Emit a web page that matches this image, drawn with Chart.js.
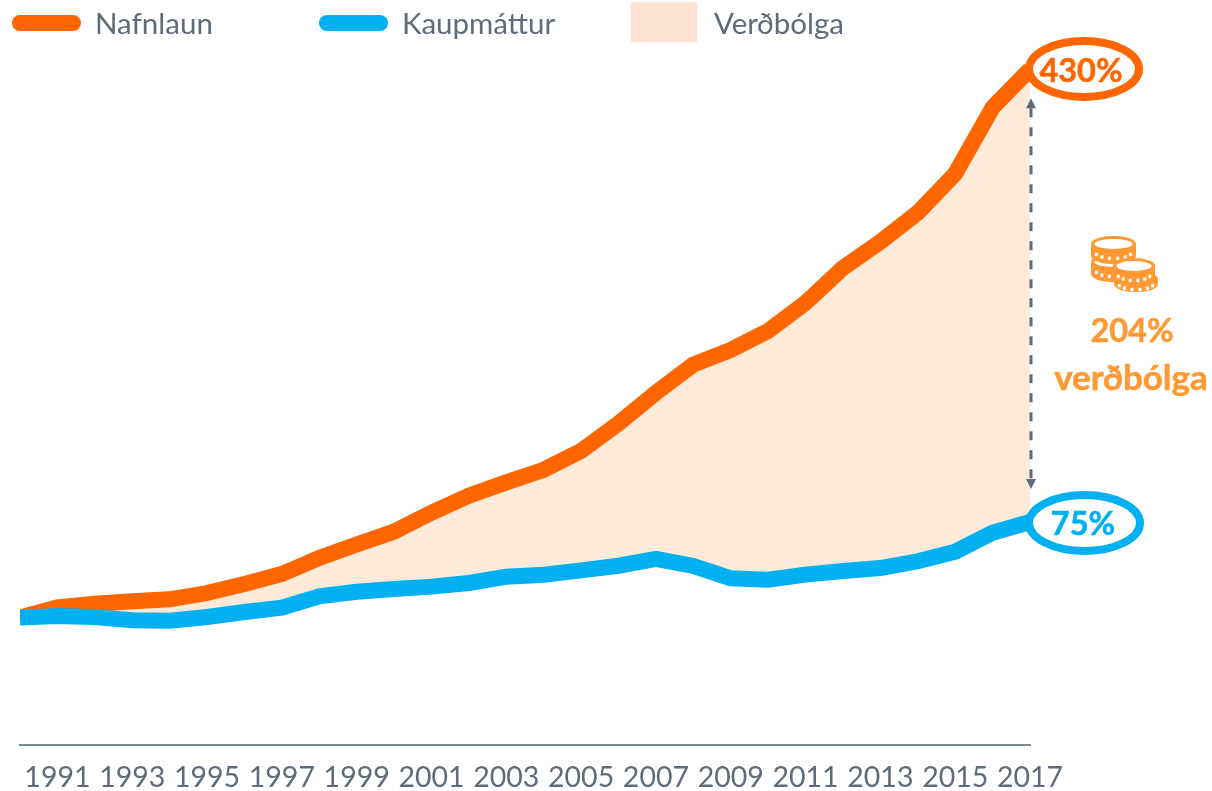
<!DOCTYPE html>
<html lang="is">
<head>
<meta charset="utf-8">
<title>Nafnlaun, kaupmáttur og verðbólga</title>
<script src="https://cdn.jsdelivr.net/npm/chart.js@4"></script>
<style>
html,body{margin:0;padding:0;background:#fff;overflow:hidden;width:1212px;height:791px}
#wrap{position:relative;width:1212px;height:791px}
canvas{position:absolute;left:0;top:0}
.t{position:absolute;white-space:nowrap;font-family:Lato,sans-serif;line-height:1;transform:translate(-50%,-50%)}
.lg{font-size:29.5px;color:#5F6B78;transform:translateY(-50%)}
.sw{position:absolute}
.b{font-weight:700;font-size:32.5px;-webkit-text-stroke:0.5px currentColor}
</style>
</head>
<body>
<div id="wrap">
<canvas id="c" width="1212" height="791"></canvas>
<div class="sw" style="left:12px;top:15px;width:69px;height:16px;border-radius:8px;background:#FF6600"></div>
<div class="t lg" style="left:95px;top:23px">Nafnlaun</div>
<div class="sw" style="left:319px;top:15px;width:69px;height:16px;border-radius:8px;background:#00B0F0"></div>
<div class="t lg" style="left:402px;top:23px">Kaupmáttur</div>
<div class="sw" style="left:631px;top:2px;width:66px;height:40px;background:#FDE3D0"></div>
<div class="t lg" style="left:714px;top:23px">Verðbólga</div>
<div class="t b" style="left:1081px;top:70px;color:#FF6600">430%</div>
<div class="t b" style="left:1083px;top:523px;color:#00B0F0">75%</div>
<div class="t b" style="left:1132px;top:330px;color:#FF9933">204%</div>
<div class="t b" style="left:1131px;top:376px;font-size:35px;color:#FF9933">verðbólga</div>
</div>
<script>
const years = [1990,1991,1992,1993,1994,1995,1996,1997,1998,1999,2000,2001,2002,2003,2004,2005,2006,2007,2008,2009,2010,2011,2012,2013,2014,2015,2016,2017];
const tickYears = [1991,1993,1995,1997,1999,2001,2003,2005,2007,2009,2011,2013,2015,2017];
const nafnlaun = [0,8,10.8,12.7,14.3,19.2,26.3,34.1,46.7,57.3,67.3,82.2,95.5,106,115.9,130.6,152.3,176.3,198.4,209.8,224.7,246.7,274.1,294.7,317.5,348.1,400,430];
const kaupmattur = [0,1.2,0.4,-2.2,-2.5,0.4,4.3,7.7,16.6,20.2,22.4,24.2,27.1,32,33.6,37,40.6,45.9,40.4,30.7,29.6,33.6,36.5,38.8,44.1,51.6,66.5,75];

const ORANGE='#FF6600', BLUE='#00B0F0', COIN='#FF9933', GREY='#5F6B78', FILL='#FEEAD8';

function coin(ctx,cx,cy,rx,ry,h){
  ctx.fillStyle=COIN;
  ctx.beginPath();
  ctx.ellipse(cx,cy,rx,ry,0,Math.PI,0);
  ctx.lineTo(cx+rx,cy+h);
  ctx.ellipse(cx,cy+h,rx,ry,0,0,Math.PI);
  ctx.closePath();
  ctx.fill();
  ctx.fillStyle='#fff';
  ctx.beginPath();
  ctx.ellipse(cx,cy,rx-3.5,ry-3,0,0,Math.PI*2);
  ctx.fill();
  const n=6;
  for(let i=0;i<n;i++){
    const a=Math.PI*(0.16+0.68*i/(n-1));
    ctx.fillRect(cx+Math.cos(a)*(rx-3)-1.5,cy+Math.sin(a)*ry+h*0.55-1.7,3,3.4);
  }
}

const annotations={
  id:'annotations',
  afterDatasetsDraw(chart){
    const {ctx,scales:{x,y}}=chart;
    const xEnd=x.getPixelForValue(years.length-1);
    const yTop=y.getPixelForValue(nafnlaun[nafnlaun.length-1]);
    const yBot=y.getPixelForValue(kaupmattur[kaupmattur.length-1]);
    ctx.save();
    const ax=xEnd+1, a1=yTop+29, a2=yBot-33;
    ctx.strokeStyle=GREY;ctx.fillStyle=GREY;ctx.lineWidth=3;ctx.setLineDash([9,10]);
    ctx.beginPath();ctx.moveTo(ax,a1+10);ctx.lineTo(ax,a2-10);ctx.stroke();
    ctx.setLineDash([]);
    ctx.beginPath();ctx.moveTo(ax,a1);ctx.lineTo(ax+5,a1+10);ctx.lineTo(ax-5,a1+10);ctx.closePath();ctx.fill();
    ctx.beginPath();ctx.moveTo(ax,a2);ctx.lineTo(ax+5,a2-10);ctx.lineTo(ax-5,a2-10);ctx.closePath();ctx.fill();
    ctx.lineWidth=8;ctx.fillStyle='#fff';
    ctx.strokeStyle=ORANGE;
    ctx.beginPath();ctx.ellipse(xEnd+54,69,55,28,0,0,Math.PI*2);ctx.fill();ctx.stroke();
    ctx.strokeStyle=BLUE;
    ctx.beginPath();ctx.ellipse(xEnd+54.5,523,55.5,28,0,0,Math.PI*2);ctx.fill();ctx.stroke();
    coin(ctx,1113.5,262,22.5,8,12);
    coin(ctx,1113.5,244,22.5,8,12);
    coin(ctx,1136,279,22,8,5);
    coin(ctx,1134,266,21,8,12);
    ctx.restore();
  }
};

new Chart(document.getElementById('c'),{
  type:'line',
  plugins:[annotations],
  data:{
    labels:years,
    datasets:[
      {label:'Kaupmáttur',data:kaupmattur,borderColor:BLUE,borderWidth:16,pointRadius:0,tension:0,fill:false,order:0,
       borderCapStyle:'butt',borderJoinStyle:'miter',clip:{left:0,right:0,top:100,bottom:100}},
      {label:'Nafnlaun',data:nafnlaun,borderColor:ORANGE,borderWidth:16,pointRadius:0,tension:0,order:1,
       fill:{target:0,above:FILL,below:FILL},backgroundColor:FILL,
       borderCapStyle:'butt',borderJoinStyle:'miter',clip:{left:0,right:0,top:100,bottom:100}}
    ]
  },
  options:{
    responsive:false,animation:false,
    layout:{padding:{left:20,right:182,top:43.75,bottom:0}},
    plugins:{legend:{display:false},tooltip:{enabled:false}},
    scales:{
      x:{
        type:'category',offset:false,
        afterFit(s){s.height=46;},
        grid:{display:false,drawTicks:false},
        border:{display:true,color:'#7F8A94',width:2},
        ticks:{autoSkip:false,maxRotation:0,minRotation:0,padding:16,color:GREY,font:{family:'Lato',size:28.5},
          callback(v){const yr=this.getLabelForValue(v);return tickYears.includes(yr)?String(yr):'';}}
      },
      y:{display:false,min:-100,max:450}
    }
  }
});
</script>
</body>
</html>
